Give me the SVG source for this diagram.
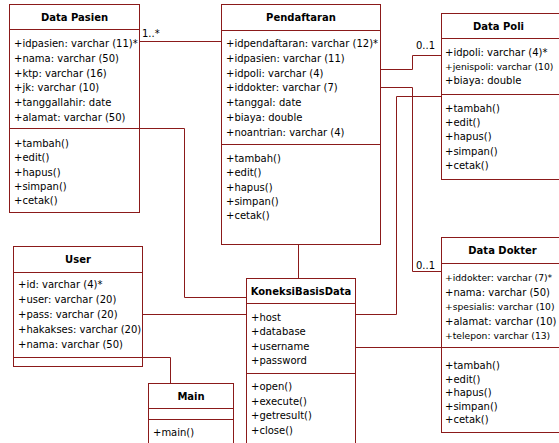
<svg xmlns="http://www.w3.org/2000/svg" width="559" height="443" viewBox="0 0 559 443">
<style>
.box{fill:#fff;stroke:#8b1a1a;stroke-width:1}
.ln{stroke:#8b1a1a;stroke-width:1;fill:none}
.t{font-family:"DejaVu Sans",sans-serif;font-size:10px;fill:#000}
.s{font-size:9.2px}
.h{font-family:"DejaVu Sans",sans-serif;font-size:10px;font-weight:bold;fill:#000;text-anchor:middle}
</style>
<rect width="559" height="443" fill="#fff"/>
<g id="connectors">
<path class="ln" d="M139,41.5H221"/>
<path class="ln" d="M139,128.5H184.5V297.5H246"/>
<path class="ln" d="M298.5,245V278"/>
<path class="ln" d="M381,69.5H412.5V55.5H441"/>
<path class="ln" d="M381,87.5H412.5V271.5H441"/>
<path class="ln" d="M356,314.5H396.5V96.5H441"/>
<path class="ln" d="M356,347.5H441"/>
<path class="ln" d="M143,314.5H246"/>
<path class="ln" d="M143,357.5H170.5V383"/>
<text class="t" x="142" y="37">1..*</text>
<text class="t" x="416" y="49">0..1</text>
<text class="t" x="416" y="269">0..1</text>
</g>
<g id="data-pasien">
<rect class="box" x="9.5" y="4.5" width="130" height="208"/>
<path class="ln" d="M9.5,29.5H139.5M9.5,128.5H139.5"/>
<text class="h" x="74.5" y="20.5">Data Pasien</text>
<text class="t" x="14" y="47">+idpasien: varchar (11)*</text>
<text class="t" x="14" y="61.8">+nama: varchar (50)</text>
<text class="t" x="14" y="76.6">+ktp: varchar (16)</text>
<text class="t" x="14" y="91.4">+jk: varchar (10)</text>
<text class="t" x="14" y="106.2">+tanggallahir: date</text>
<text class="t" x="14" y="121">+alamat: varchar (50)</text>
<text class="t" x="14" y="147">+tambah()</text>
<text class="t" x="14" y="161.3">+edit()</text>
<text class="t" x="14" y="175.6">+hapus()</text>
<text class="t" x="14" y="189.9">+simpan()</text>
<text class="t" x="14" y="204.2">+cetak()</text>
</g>
<g id="pendaftaran">
<rect class="box" x="221.5" y="4.5" width="159" height="240"/>
<path class="ln" d="M221.5,30.5H380.5M221.5,144.5H380.5"/>
<text class="h" x="301" y="20.5">Pendaftaran</text>
<text class="t" x="226" y="47">+idpendaftaran: varchar (12)*</text>
<text class="t" x="226" y="61.8">+idpasien: varchar (11)</text>
<text class="t" x="226" y="76.6">+idpoli: varchar (4)</text>
<text class="t" x="226" y="91.4">+iddokter: varchar (7)</text>
<text class="t" x="226" y="106.2">+tanggal: date</text>
<text class="t" x="226" y="121">+biaya: double</text>
<text class="t" x="226" y="135.8">+noantrian: varchar (4)</text>
<text class="t" x="226" y="162">+tambah()</text>
<text class="t" x="226" y="176.3">+edit()</text>
<text class="t" x="226" y="190.6">+hapus()</text>
<text class="t" x="226" y="204.9">+simpan()</text>
<text class="t" x="226" y="219.2">+cetak()</text>
</g>
<g id="data-poli">
<rect class="box" x="441.5" y="13.5" width="130" height="166"/>
<path class="ln" d="M441.5,38.5H571.5M441.5,94.5H571.5"/>
<text class="h" x="498.5" y="30">Data Poli</text>
<text class="t" x="445" y="56">+idpoli: varchar (4)*</text>
<text class="t s" x="445" y="70">+jenispoli: varchar (10)</text>
<text class="t" x="445" y="84">+biaya: double</text>
<text class="t" x="445" y="112">+tambah()</text>
<text class="t" x="445" y="126.2">+edit()</text>
<text class="t" x="445" y="140.4">+hapus()</text>
<text class="t" x="445" y="154.6">+simpan()</text>
<text class="t" x="445" y="168.8">+cetak()</text>
</g>
<g id="data-dokter">
<rect class="box" x="441.5" y="237.5" width="130" height="195"/>
<path class="ln" d="M441.5,263.5H571.5M441.5,347.5H571.5"/>
<text class="h" x="502.5" y="254">Data Dokter</text>
<text class="t s" x="445" y="281">+iddokter: varchar (7)*</text>
<text class="t" x="445" y="295.5">+nama: varchar (50)</text>
<text class="t s" x="445" y="310">+spesialis: varchar (10)</text>
<text class="t" x="445" y="324.5">+alamat: varchar (10)</text>
<text class="t s" x="445" y="339">+telepon: varchar (13)</text>
<text class="t" x="445" y="369">+tambah()</text>
<text class="t" x="445" y="382.6">+edit()</text>
<text class="t" x="445" y="396.2">+hapus()</text>
<text class="t" x="445" y="409.8">+simpan()</text>
<text class="t" x="445" y="423.4">+cetak()</text>
</g>
<g id="user">
<rect class="box" x="13.5" y="246.5" width="129" height="120"/>
<path class="ln" d="M13.5,272.5H142.5M13.5,357.5H142.5"/>
<text class="h" x="78" y="263">User</text>
<text class="t" x="18" y="288">+id: varchar (4)*</text>
<text class="t" x="18" y="303">+user: varchar (20)</text>
<text class="t" x="18" y="318">+pass: varchar (20)</text>
<text class="t" x="18" y="333">+hakakses: varchar (20)</text>
<text class="t" x="18" y="348">+nama: varchar (50)</text>
</g>
<g id="koneksi-basis-data">
<rect class="box" x="246.5" y="278.5" width="109" height="180"/>
<path class="ln" d="M246.5,303.5H355.5M246.5,373.5H355.5"/>
<text class="h" x="301" y="295">KoneksiBasisData</text>
<text class="t" x="251" y="321">+host</text>
<text class="t" x="251" y="335.4">+database</text>
<text class="t" x="251" y="349.8">+username</text>
<text class="t" x="251" y="364.2">+password</text>
<text class="t" x="251" y="389.5">+open()</text>
<text class="t" x="251" y="404.5">+execute()</text>
<text class="t" x="251" y="419">+getresult()</text>
<text class="t" x="251" y="434">+close()</text>
</g>
<g id="main">
<rect class="box" x="148.5" y="383.5" width="85" height="70"/>
<path class="ln" d="M148.5,408.5H233.5M148.5,419.5H233.5"/>
<text class="h" x="191" y="400">Main</text>
<text class="t" x="153" y="436">+main()</text>
</g>
</svg>
